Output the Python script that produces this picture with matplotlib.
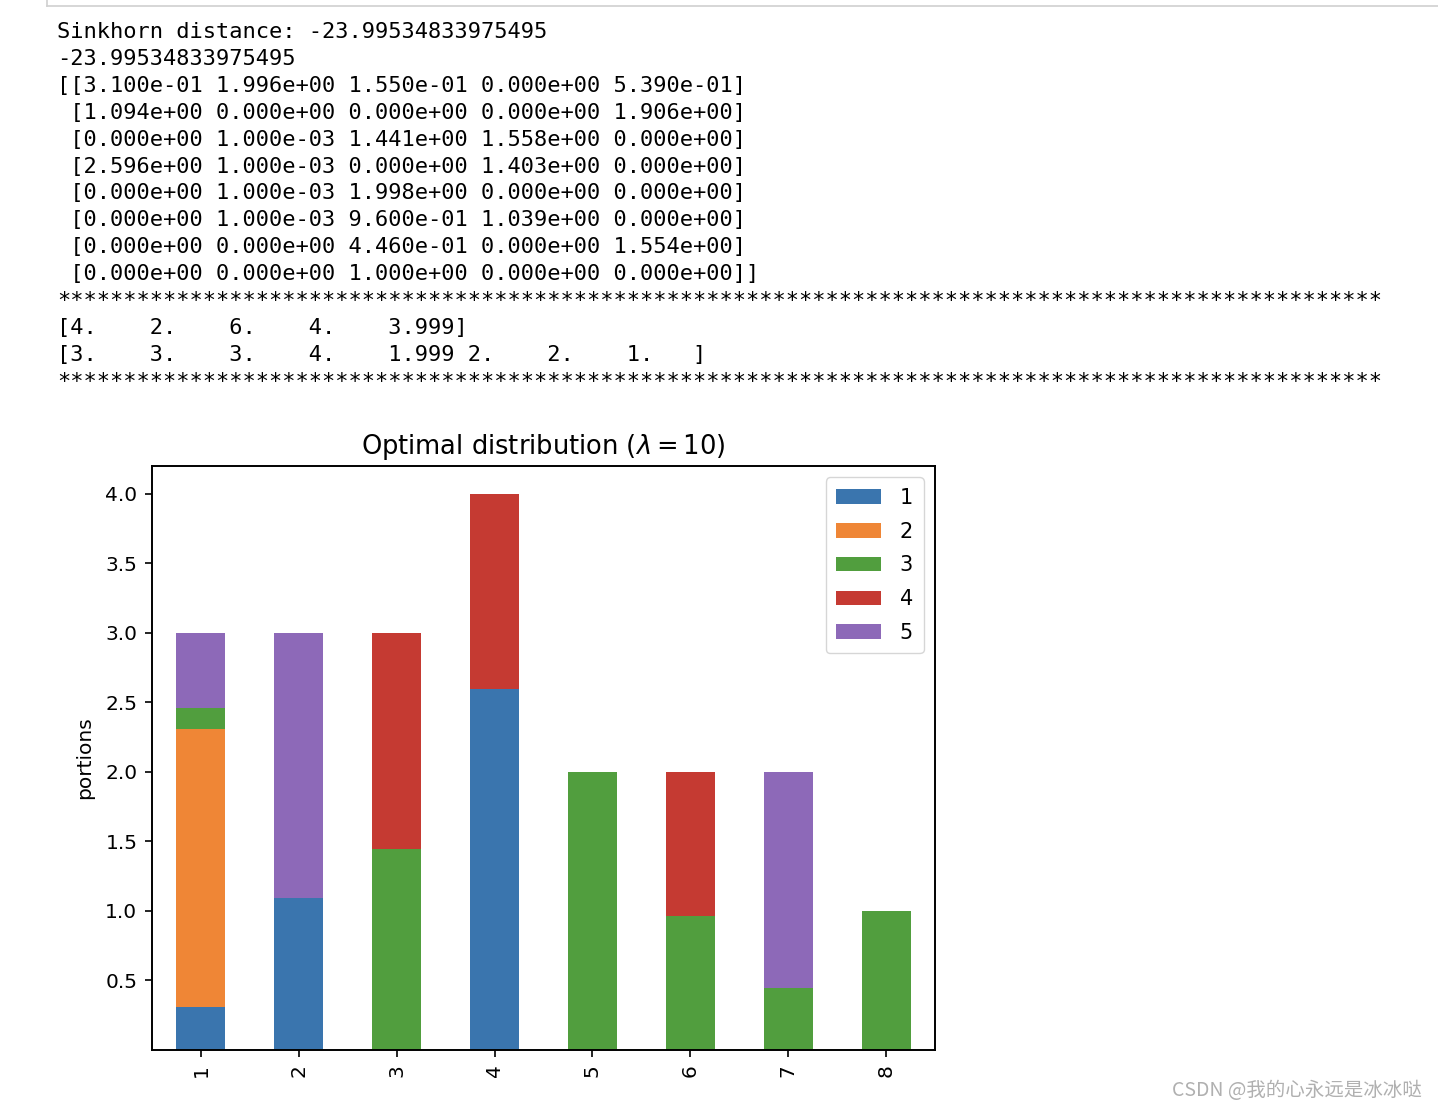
import matplotlib.pyplot as plt
import numpy as np

# Data (optimal transport plan, rows = destinations, cols = sources)
row_labels = ['1', '2', '3', '4', '5', '6', '7', '8']
col_labels = ['1', '2', '3', '4', '5']
plan = [
    [0.310, 1.996, 0.155, 0.000, 0.539],
    [1.094, 0.000, 0.000, 0.000, 1.906],
    [0.000, 0.001, 1.441, 1.558, 0.000],
    [2.596, 0.001, 0.000, 1.403, 0.000],
    [0.000, 0.001, 1.998, 0.000, 0.000],
    [0.000, 0.001, 0.960, 1.039, 0.000],
    [0.000, 0.000, 0.446, 0.000, 1.554],
    [0.000, 0.000, 1.000, 0.000, 0.000],
]
y_ticks = [0.5, 1.0, 1.5, 2.0, 2.5, 3.0, 3.5, 4.0]

sinkhorn = "-23.99534833975495"
row_sums = "[4.    2.    6.    4.    3.999]"
col_sums = "[3.    3.    3.    4.    1.999 2.    2.    1.   ]"

colors = ['#3a75ae', '#ef8636', '#519e3e', '#c53a32', '#8d69b8']

W, H = 1438, 1110
fig = plt.figure(figsize=(W / 100, H / 100), dpi=100)

# notebook printed output above the chart
lines = ["Sinkhorn distance: " + sinkhorn, sinkhorn]
for i, r in enumerate(plan):
    cells = " ".join("%.3e" % v for v in r)
    prefix = "[[" if i == 0 else " ["
    suffix = "]]" if i == len(plan) - 1 else "]"
    lines.append(prefix + cells + suffix)
lines += ["*" * 100, row_sums, col_sums, "*" * 100]

for i, txt in enumerate(lines):
    fig.text(57 / W, 1 - (38 + i * 26.9) / H, txt, family='DejaVu Sans Mono',
             fontsize=15.8, va='baseline', ha='left', color='black')

# cell border remnant at the very top
fig.add_artist(plt.Line2D([47 / W, 1.0], [1 - 6 / H, 1 - 6 / H], color='#d0d0d0', lw=1.2))
fig.add_artist(plt.Line2D([47 / W, 47 / W], [1 - 6 / H, 1.0], color='#d0d0d0', lw=1.2))

# Bar chart
ax = fig.add_axes([152 / W, 1 - 1050 / H, (935 - 152) / W, (1050 - 466) / H])
data = np.array(plan)
x = np.arange(len(row_labels))
bottom = np.zeros(len(row_labels))
for j, lab in enumerate(col_labels):
    ax.bar(x, data[:, j], width=0.5, bottom=bottom, color=colors[j], label=lab)
    bottom += data[:, j]

ax.set_xlim(-0.5, len(row_labels) - 0.5)
ax.set_ylim(0, 4.2)
ax.set_xticks(x)
ax.set_xticklabels(row_labels, rotation=90)
ax.set_yticks(y_ticks)
ax.tick_params(labelsize=14.5, length=5, width=1.2, pad=5.5)
for s in ax.spines.values():
    s.set_linewidth(1.4)

ax.set_ylabel("portions", fontsize=14.5, labelpad=8)
ax.set_title(r"Optimal distribution ($\lambda = 10$)", fontsize=18.5, pad=9)
ax.legend(loc='upper right', fontsize=15, handlelength=2.15, handleheight=0.7,
          borderaxespad=0.55, labelspacing=0.66, handletextpad=0.9, borderpad=0.5)

# watermark
fig.text(1422 / W, 1 - 1090 / H, "CSDN @我的心永远是冰冰哒", family=['Noto Sans CJK SC', 'DejaVu Sans'],
         fontsize=14, color='#b0b0b0', ha='right', va='center')

plt.savefig('out.png', dpi=100)
